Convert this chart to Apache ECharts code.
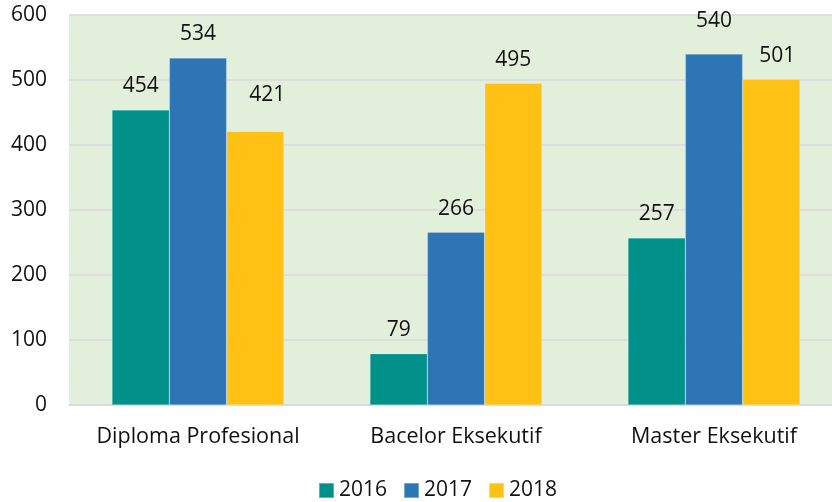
<!DOCTYPE html>
<html>
<head>
<meta charset="utf-8">
<script src="https://cdn.jsdelivr.net/npm/echarts@6/dist/echarts.min.js"></script>
<style>
  html, body { margin: 0; padding: 0; background: #fff; overflow: hidden; }
  #chart { width: 832px; height: 502px; }
</style>
</head>
<body>
<div id="chart"></div>
<script>
const categories = ['Diploma Profesional', 'Bacelor Eksekutif', 'Master Eksekutif'];
const years = ['2016', '2017', '2018'];
const values2016 = [454, 79, 257];
const values2017 = [534, 266, 540];
const values2018 = [421, 495, 501];
const yTicks = [0, 100, 200, 300, 400, 500, 600];

const colors = ['#00908a', '#2e75b6', '#fec114'];
const font = '"Open Sans", "Noto Sans", sans-serif';

// a few value labels sit slightly apart from their bars
const labelShift = {
  '2018-0': [12, -13],
  '2017-2': [0, -9],
  '2018-2': [6, 0]
};

function makeSeries(name, vals, idx) {
  return {
    name: name,
    type: 'bar',
    barGap: '0%',
    barCategoryGap: '33.3%',
    itemStyle: { color: colors[idx], borderColor: 'rgba(255,255,255,0.35)', borderWidth: 0.6 },
    data: vals.map((v, i) => {
      const d = { value: v };
      const s = labelShift[name + '-' + i];
      if (s) d.label = { offset: s };
      return d;
    }),
    label: {
      show: true,
      position: 'top',
      distance: 13,
      color: '#111',
      fontFamily: font,
      fontSize: 21
    }
  };
}

const chart = echarts.init(document.getElementById('chart'), null, { renderer: 'canvas' });
chart.setOption({
  animation: false,
  color: colors,
  grid: {
    left: 69, width: 774, top: 15, bottom: 97,
    outerBoundsMode: 'none',
    containLabel: false,
    show: true, backgroundColor: '#e2efda', borderWidth: 0
  },
  xAxis: {
    type: 'category',
    data: categories,
    axisLine: { show: true, lineStyle: { color: '#d9d9d9', width: 1.5 } },
    axisTick: { show: false },
    axisLabel: { color: '#111', fontFamily: font, fontSize: 21.5, margin: 21, interval: 0, hideOverlap: false }
  },
  yAxis: {
    type: 'value',
    min: yTicks[0],
    max: yTicks[yTicks.length - 1],
    interval: 100,
    axisLine: { show: false },
    axisTick: { show: false },
    splitLine: { lineStyle: { color: '#d9d9d9', width: 1.5 } },
    axisLabel: { color: '#111', fontFamily: font, fontSize: 21, margin: 22 }
  },
  legend: {
    top: 475,
    left: 313,
    itemWidth: 15,
    itemHeight: 15,
    itemGap: 16,
    icon: 'rect',
    textStyle: { color: '#111', fontFamily: font, fontSize: 21 },
    data: years
  },
  series: [
    makeSeries(years[0], values2016, 0),
    makeSeries(years[1], values2017, 1),
    makeSeries(years[2], values2018, 2)
  ]
});
</script>
</body>
</html>
